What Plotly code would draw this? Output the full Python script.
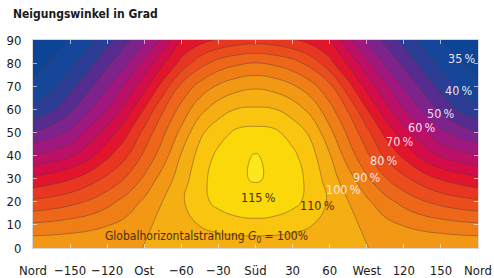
import plotly.graph_objects as go

# Azimuth (deg, 0 = Süd) and tilt (deg)
azimuth = [-180, -165, -150, -135, -120, -105, -90, -75, -60, -45, -30, -15, 0,
           15, 30, 45, 60, 75, 90, 105, 120, 135, 150, 165, 180]
tilt = [0, 10, 20, 30, 40, 50, 60, 70, 80, 90]

# relative irradiation in % of horizontal global irradiation, one row per tilt
row_t0 = [99.6, 99.6, 99.7, 99.75, 99.8, 99.9, 100.01, 100.1, 100.2, 100.3, 100.4, 100.5, 100.5,
          100.5, 100.4, 100.3, 100.2, 100.1, 100.01, 99.9, 99.8, 99.75, 99.7, 99.6, 99.6]
row_t10 = [90.9, 91.4, 92.3, 93.3, 94.7, 96.6, 98.9, 101.4, 103.4, 105.2, 107.4, 108.7, 109.0,
           108.7, 107.4, 105.2, 103.4, 101.4, 98.9, 96.6, 94.7, 93.3, 92.3, 91.4, 90.9]
row_t20 = [81.0, 82.0, 83.5, 85.5, 88.4, 91.8, 96.0, 100.1, 104.2, 108.6, 111.2, 112.2, 112.5,
           112.2, 111.2, 108.6, 104.2, 100.1, 96.0, 91.8, 88.4, 85.5, 83.5, 82.0, 81.0]
row_t30 = [71.0, 72.6, 74.5, 77.6, 81.1, 85.4, 90.8, 97.2, 102.3, 108.6, 112.0, 114.2, 115.5,
           114.2, 112.0, 108.6, 102.3, 97.2, 90.8, 85.4, 81.1, 77.6, 74.5, 72.6, 71.0]
row_t40 = [60.2, 62.2, 64.4, 68.4, 73.9, 79.1, 86.0, 92.6, 100.4, 106.7, 111.2, 113.8, 115.3,
           113.8, 111.2, 106.7, 100.4, 92.6, 86.0, 79.1, 73.9, 68.4, 64.4, 62.2, 60.2]
row_t50 = [50.2, 52.8, 56.0, 61.5, 66.9, 73.6, 81.5, 89.0, 96.3, 104.0, 108.0, 111.0, 111.6,
           111.0, 108.0, 104.0, 96.3, 89.0, 81.5, 73.6, 66.9, 61.5, 56.0, 52.8, 50.2]
row_t60 = [40.8, 44.0, 48.8, 54.4, 60.1, 66.9, 75.2, 84.4, 91.7, 98.3, 102.8, 105.2, 105.6,
           105.2, 102.8, 98.3, 91.7, 84.4, 75.2, 66.9, 60.1, 54.4, 48.8, 44.0, 40.8]
row_t70 = [35.9, 38.9, 43.3, 48.7, 54.3, 61.1, 68.1, 76.9, 86.2, 91.8, 95.7, 98.2, 99.2,
           98.2, 95.7, 91.8, 86.2, 76.9, 68.1, 61.1, 54.3, 48.7, 43.3, 38.9, 35.9]
row_t80 = [33.3, 35.4, 38.5, 43.1, 48.8, 54.3, 61.4, 69.2, 76.6, 83.0, 87.0, 89.1, 90.1,
           89.1, 87.0, 83.0, 76.6, 69.2, 61.4, 54.3, 48.8, 43.1, 38.5, 35.4, 33.3]
row_t90 = [31.0, 32.8, 35.1, 38.4, 43.1, 48.6, 54.2, 61.3, 70.2, 73.1, 75.6, 77.3, 78.0,
           77.3, 75.6, 73.1, 70.2, 61.3, 54.2, 48.6, 43.1, 38.4, 35.1, 32.8, 31.0]

x_tickvals = [-180, -150, -120, -90, -60, -30, 0, 30, 60, 90, 120, 150, 180]
x_ticktext = ["Nord", "\u2212150", "\u2212120", "Ost", "\u221260", "\u221230", "Süd",
              "30", "60", "West", "120", "150", "Nord"]
y_tickvals = [0, 10, 20, 30, 40, 50, 60, 70, 80, 90]

# contour label texts and their positions (azimuth, tilt)
label_texts = ["35\u2009%", "40\u2009%", "50\u2009%", "60\u2009%", "70\u2009%",
               "80\u2009%", "90\u2009%", "100\u2009%"]
label_az = [167, 164.5, 150, 134.5, 117, 104, 90, 71.5]
label_tilt = [82, 68, 58.4, 52, 46.3, 38, 30.7, 25.5]
dark_texts = ["115\u2009%", "110\u2009%"]
dark_az = [2.8, 49.8]
dark_tilt = [22, 18.2]

band_colors = [
    "#0A3E8E",  # < 30
    "#0D4596",  # 30-35
    "#154699",  # 35-40
    "#2C3D96",  # 40-45
    "#562C90",  # 45-50
    "#7E228C",  # 50-55
    "#A0187F",  # 55-60
    "#BC1068",  # 60-65
    "#D40C4A",  # 65-70
    "#E2152D",  # 70-75
    "#E83620",  # 75-80
    "#EB4E1C",  # 80-85
    "#EE661A",  # 85-90
    "#F07E17",  # 90-95
    "#F39814",  # 95-100
    "#F6AF12",  # 100-105
    "#F9C50E",  # 105-110
    "#FBD80A",  # 110-115
    "#FDE61A",  # > 115
]
n = len(band_colors) - 1
colorscale = []
for k, c in enumerate(band_colors):
    lo = max(0.0, (k - 0.5) / n)
    hi = min(1.0, (k + 0.5) / n)
    colorscale.append([lo, c])
    colorscale.append([hi, c])

z = [row_t0, row_t10, row_t20, row_t30, row_t40, row_t50, row_t60, row_t70, row_t80, row_t90]

FONT = "Liberation Sans Narrow, DejaVu Sans Condensed, Arial Narrow, sans-serif"

fig = go.Figure()
fig.add_trace(go.Contour(
    x=azimuth, y=tilt, z=z,
    contours=dict(start=30, end=115, size=5, coloring="fill"),
    colorscale=colorscale,
    line=dict(color="rgba(80,60,50,0.55)", width=0.8, smoothing=1.3),
    showscale=False,
    hoverinfo="skip",
))

annotations = []
for t, a, ti in zip(label_texts, label_az, label_tilt):
    annotations.append(dict(x=a, y=ti, xref="x", yref="y", text=t, showarrow=False,
                            font=dict(family=FONT, size=12.5, color="rgba(255,245,250,0.92)")))
for t, a, ti in zip(dark_texts, dark_az, dark_tilt):
    annotations.append(dict(x=a, y=ti, xref="x", yref="y", text=t, showarrow=False,
                            font=dict(family=FONT, size=12.5, color="#4a3008")))
annotations.append(dict(x=-40, y=4.8, xref="x", yref="y",
                        text="Globalhorizontalstrahlung <i>G</i><sub>0</sub> = 100%",
                        showarrow=False, font=dict(family=FONT, size=12, color="#4a3008")))
annotations.append(dict(x=-0.049, y=1.125, xref="paper", yref="paper",
                        text="<b>Neigungswinkel in Grad</b>", showarrow=False,
                        xanchor="left", yanchor="middle",
                        font=dict(family=FONT, size=12, color="#1a1a1a")))

fig.update_layout(
    width=494, height=278,
    margin=dict(l=33, r=16, t=40, b=30),
    paper_bgcolor="white", plot_bgcolor="white",
    font=dict(family=FONT, size=13, color="#1a1a1a"),
    annotations=annotations,
    xaxis=dict(range=[-180, 180], tickmode="array", tickvals=x_tickvals, ticktext=x_ticktext,
               tickangle=0, automargin=False,
               ticks="inside", ticklen=4, tickcolor="rgba(255,255,255,0.6)",
               showline=True, linecolor="#d8d8d8", linewidth=1, mirror="ticks",
               showgrid=False, zeroline=False, ticklabelstandoff=10),
    yaxis=dict(range=[0, 90], tickmode="array", tickvals=y_tickvals, automargin=False,
               ticks="inside", ticklen=4, tickcolor="rgba(255,255,255,0.6)",
               showline=True, linecolor="#d8d8d8", linewidth=1, mirror="ticks",
               showgrid=False, zeroline=False, ticklabelstandoff=8),
)

fig.write_html("out.html", config={"displayModeBar": False},
               post_script="document.body.style.margin='0';")
